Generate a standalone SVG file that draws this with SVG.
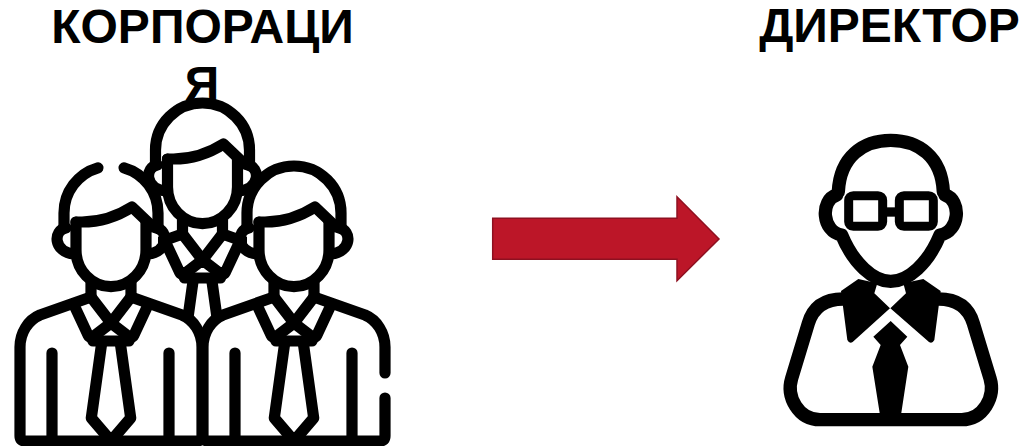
<svg xmlns="http://www.w3.org/2000/svg" width="1025" height="446" viewBox="0 0 1025 446">
<style>
.t{font-family:"Liberation Sans",Arial,sans-serif;font-weight:700;font-size:48px;fill:#000;text-anchor:middle}
.l{fill:none;stroke:#000;stroke-width:11.200;stroke-linecap:round;stroke-linejoin:round}
.w{fill:#fff;stroke:none}
</style>
<defs>
<g id="head">
<path class="w" d="M64 250V213A47 47 0 0 1 158 213V250L146 285H76Z"/>
<path class="l" d="M66 228C53 230 53 252 74 254M156 228C169 230 169 252 148 254"/>
<path class="l" d="M76 222V250A35 36.700 0 0 0 146 250V222"/>
<path class="l" d="M76 222H82C100 222 118 216 132 207L153 227"/>
</g>
<g id="solidHair"><path class="l" d="M64 226V213A47 47 0 0 1 158 213V226"/></g>
<g id="front">
<path class="l" d="M91 283V298M131 283V298"/>
<path class="l" d="M74 305L88 335Q90 339 94 336L111 323L91 297M148 305L134 335Q132 339 128 336L111 323L131 297"/>
<path class="l" d="M93 341H129"/>
<path class="l" d="M101.700 343L91.300 418L111 441L130.700 418L120.300 343"/>
</g>
<path id="arms" class="l" d="M52 353V441M169 353V441"/>
<path id="bodyFill" class="w" d="M91 297L40 315C28 320 20 333 20 347V441H202V347C202 333 194 320 182 315L131 297Z"/>
</defs>
<g id="labels">
<text class="t" x="202.500" y="42.500">КОРПОРАЦИ</text>
<text class="t" x="202" y="100">Я</text>
<text class="t" x="889.500" y="42">ДИРЕКТОР</text>
</g>
<g id="person-back" transform="translate(91.500 -63)">
<use href="#bodyFill"/>
<path class="l" d="M91 297L40 315M131 297L182 315"/>
<use href="#head"/>
<use href="#solidHair"/>
<use href="#front"/>
</g>
<g id="person-left">
<use href="#bodyFill"/>
<path class="l" d="M91 297L40 315C28 320 20 333 20 347V436Q20 441 25 441H197Q202 441 202 436V347C202 333 194 320 182 315L131 297"/>
<use href="#head"/>
<path class="l" d="M64 226V213A47 47 0 0 1 98 167.800M124 167.800A47 47 0 0 1 158 213V226"/>
<use href="#front"/>
<use href="#arms"/>
</g>
<g id="person-right" transform="translate(183 0)">
<use href="#bodyFill"/>
<path class="l" d="M91 297L40 315C28 320 20 333 20 347V436Q20 441 25 441H197Q202 441 202 436V398M202 373V347C202 333 194 320 182 315L131 297"/>
<use href="#head"/>
<use href="#solidHair"/>
<use href="#front"/>
<use href="#arms"/>
</g>
<g id="connectors">
<path id="arrow" d="M492.700 218.300H677V196.700L719 239L677 280.700V259.300H492.700Z" fill="#bc1628" stroke="#8e1020" stroke-width="1.500"/>
</g>
<g id="director" transform="translate(770 120) scale(.33333)">
<path fill="none" stroke="#000" stroke-width="40" stroke-linejoin="round" stroke-linecap="round" d="M205 215C210 110 280 61 362 61C445 61 515 110 520 215"/>
<path fill="none" stroke="#000" stroke-width="40" stroke-linejoin="round" stroke-linecap="round" d="M200 225C150 240 155 335 215 345C250 430 310 484 362 484C415 484 475 430 510 345C570 335 575 240 525 225"/>
<rect x="236" y="227" width="102" height="92" rx="14" fill="#fff" stroke="#000" stroke-width="27"/>
<rect x="388" y="227" width="102" height="92" rx="14" fill="#fff" stroke="#000" stroke-width="27"/>
<path stroke="#000" stroke-width="28" d="M345 276H380"/>
<path fill="none" stroke="#000" stroke-width="40" stroke-linecap="round" d="M220 537C165 537 130 560 115 610L65 775C48 830 85 899 150 899H575C640 899 677 830 660 775L610 610C595 560 560 537 505 537"/>
<path d="M265 477L213 513L232 660Q238 672 248 666L360 565L313 520L322 490ZM460 477L512 513L493 660Q487 672 477 666L361 565L408 520L400 490Z" fill="#000"/>
<path d="M362 603L412 650L390 675L415 740L393 885H330L307 740L332 675L310 650Z" fill="#000"/>
</g>
</svg>
